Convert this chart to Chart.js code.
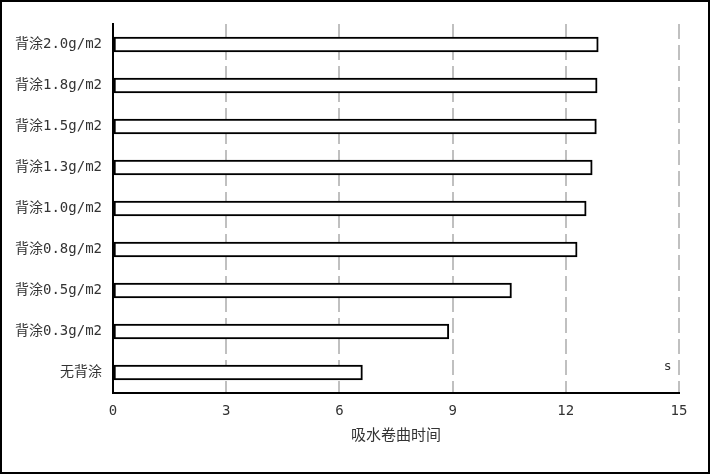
<!DOCTYPE html>
<html>
<head>
<meta charset="utf-8">
<script src="https://cdn.jsdelivr.net/npm/chart.js@4"></script>
<style>
    html, body { margin: 0; padding: 0; background: #fff; }
    #wrap { width: 710px; height: 474px; }
</style>
</head>
<body>
<div id="wrap"><canvas id="bar-chart-curl" width="710" height="474"></canvas></div>
<script>
let categories = ["背涂2.0g/m2", "背涂1.8g/m2", "背涂1.5g/m2", "背涂1.3g/m2", "背涂1.0g/m2", "背涂0.8g/m2", "背涂0.5g/m2", "背涂0.3g/m2", "无背涂"];
let curlTimes = [12.86, 12.83, 12.81, 12.70, 12.54, 12.30, 10.56, 8.90, 6.61];
let xTicks = [0, 3, 6, 9, 12, 15];
let axisTitle = "吸水卷曲时间";
let unitLabel = "s";

let fontFamily = '"DejaVu Sans Mono", "Noto Sans CJK SC", monospace';

// outer frame + unit label
let framePlugin = {
    id: 'frame',
    afterDraw: function (chart) {
        let ctx = chart.ctx;
        ctx.save();
        ctx.strokeStyle = "#000";
        ctx.lineWidth = 2;
        ctx.strokeRect(1, 1, chart.width - 2, chart.height - 2);
        ctx.fillStyle = "#333";
        ctx.font = '13px ' + fontFamily;
        ctx.textAlign = "center";
        ctx.textBaseline = "middle";
        let x = chart.scales.x.getPixelForValue(14.7);
        ctx.fillText(unitLabel, x, chart.scales.y.getPixelForValue(categories.length - 1) - 6);
        ctx.restore();
    }
};

new Chart(document.getElementById("bar-chart-curl"), {
    type: 'bar',
    data: {
        labels: categories,
        datasets: [{
            data: curlTimes,
            backgroundColor: "#fff",
            borderColor: "#000",
            borderWidth: 2,
            borderSkipped: false,
            barThickness: 15
        }]
    },
    options: {
        indexAxis: 'y',
        responsive: false,
        animation: false,
        layout: { padding: { top: 24, right: 31, left: 0, bottom: 25 } },
        plugins: {
            legend: { display: false },
            tooltip: { enabled: false }
        },
        scales: {
            x: {
                min: 0,
                max: 15,
                afterBuildTicks: function (axis) {
                    axis.ticks = xTicks.map(function (v) { return { value: v }; });
                },
                afterFit: function (axis) { axis.height = 56; },
                grid: {
                    drawTicks: false,
                    lineWidth: 2,
                    color: function (c) { return c.tick && c.tick.value === 0 ? "rgba(0,0,0,0)" : "#c0c0c0"; }
                },
                border: { display: true, color: "#000", width: 2, dash: [15, 6] },
                ticks: { padding: 10, color: "#333", font: { family: fontFamily, size: 14 } },
                title: {
                    display: true,
                    text: axisTitle,
                    color: "#333",
                    padding: { top: 4, bottom: 4 },
                    font: { family: fontFamily, size: 15 }
                }
            },
            y: {
                afterFit: function (axis) { axis.width = 113; },
                grid: { display: false, drawTicks: false },
                border: { display: true, color: "#000", width: 2 },
                ticks: { padding: 11, color: "#333", font: { family: fontFamily, size: 14 } }
            }
        }
    },
    plugins: [framePlugin]
});
</script>
</body>
</html>
